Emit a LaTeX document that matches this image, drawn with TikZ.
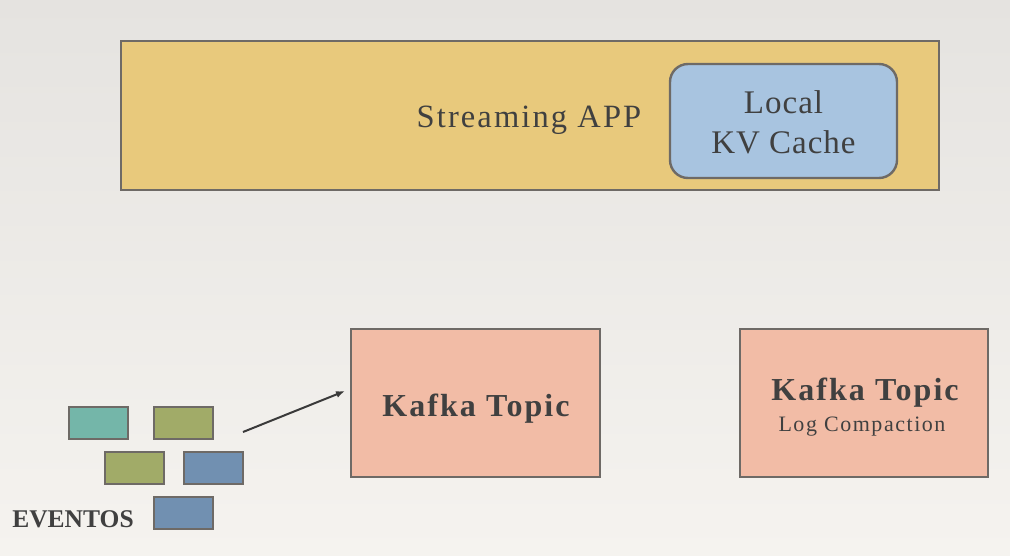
\documentclass[tikz,border=0pt]{standalone}
\usepackage{fontspec}
\usetikzlibrary{arrows.meta}
\setmainfont{Liberation Serif}
\newfontfamily\spaced[LetterSpace=6.5]{Liberation Serif}
\newfontfamily\spacedb[LetterSpace=6.5]{Liberation Serif}
\newfontfamily\spacedsm[LetterSpace=7]{Liberation Serif}
\newfontfamily\tight[LetterSpace=3]{Liberation Serif}
\definecolor{bgtop}{HTML}{E5E3E0}
\definecolor{bgbot}{HTML}{F5F3EF}
\definecolor{appfill}{HTML}{E8C97C}
\definecolor{cachefill}{HTML}{A8C4E0}
\definecolor{kfill}{HTML}{F2BCA6}
\definecolor{edge}{HTML}{6E6A66}
\definecolor{txt}{HTML}{404040}
\definecolor{teal}{HTML}{74B6A9}
\definecolor{olive}{HTML}{A1AB68}
\definecolor{steel}{HTML}{7190B1}
\begin{document}
\begin{tikzpicture}[x=1pt,y=-1pt,
  box/.style={draw=edge,line width=2.4pt,inner sep=0pt,outer sep=0pt,anchor=north west,text=txt},
  ev/.style={box,minimum width=59pt,minimum height=32pt},
  arr/.style={draw=txt!90!black,line width=2pt,-{Latex[length=9pt,width=7pt]}}]
\useasboundingbox (0,0) rectangle (1010,555);
\shade[top color=bgtop,bottom color=bgbot] (0,0) rectangle (1010,555);
\node[box,fill=appfill,minimum width=818pt,minimum height=149pt] (app) at (121,41) {};
\node[text=txt,font=\spaced\fontsize{32.5}{38}\selectfont,anchor=center] (applbl) at (529,120) {Streaming APP};
\node[box,fill=cachefill,rounded corners=18pt,minimum width=227pt,minimum height=114pt] (cache) at (670,64) {};
\node[text=txt,font=\tight\fontsize{33}{40}\selectfont,align=center,anchor=center] (cachelbl) at (783.5,122) {Local\\KV Cache};
\node[box,fill=kfill,minimum width=249pt,minimum height=148pt] (k1) at (351,329) {};
\node[text=txt,font=\spacedb\bfseries\fontsize{32}{36}\selectfont,anchor=center] (k1lbl) at (476,409) {Kafka Topic};
\node[box,fill=kfill,minimum width=248pt,minimum height=148pt] (k2) at (740,329) {};
\node[text=txt,font=\spacedb\bfseries\fontsize{32}{36}\selectfont,anchor=center] (k2lbl) at (865,393) {Kafka Topic};
\node[text=txt,font=\spacedsm\fontsize{22}{26}\selectfont,anchor=center] (k2sub) at (862,427) {Log Compaction};
\node[ev,fill=teal] (e1) at (69,407) {};
\node[ev,fill=olive] (e2) at (154,407) {};
\node[ev,fill=olive] (e3) at (105,452) {};
\node[ev,fill=steel] (e4) at (184,452) {};
\node[ev,fill=steel] (e5) at (154,497) {};
\node[text=txt,font=\bfseries\fontsize{25.5}{28}\selectfont,anchor=center] (evlbl) at (73,519) {EVENTOS};
\coordinate (astart) at (243,432);
\coordinate (aend) at (345,391);
\draw[arr] (astart) -- (aend);
\end{tikzpicture}
\end{document}
